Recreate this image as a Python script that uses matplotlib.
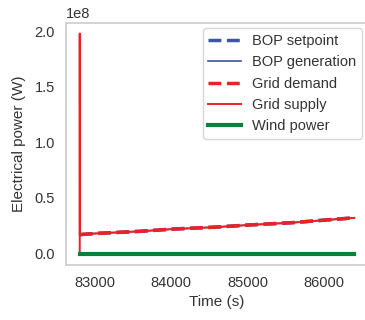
import matplotlib
matplotlib.use("Agg")
import matplotlib.pyplot as plt
import numpy as np

plt.rcParams['font.family'] = ['Liberation Sans', 'DejaVu Sans']

# Data (time in s, power in W)
time_demand = [82800, 83000, 83600, 84000, 84600, 85000, 85600, 86000, 86400]
grid_demand = [0.170e8, 0.180e8, 0.200e8, 0.219e8, 0.238e8, 0.256e8, 0.278e8, 0.300e8, 0.321e8]
time_supply = [82800, 82800, 82801] + time_demand[1:]
grid_supply = [0.0, 1.98e8, 0.170e8] + grid_demand[1:]
bop_setpoint = grid_demand
bop_generation = grid_demand
wind_power = [0.0] * len(time_demand)

fs = 10.5
fig = plt.figure(figsize=(3.65, 3.2), dpi=100)
ax = fig.add_axes([66/365, 1 - 264.5/320, (368-66)/365, (264.5-22.5)/320])

blue = '#3a56a5'
red = '#ec2027'
green = '#0d7f3c'
ax.plot(time_demand, bop_setpoint, color=blue, lw=2.5, ls='--', label='BOP setpoint')
ax.plot(time_demand, bop_generation, color=blue, lw=1.2, label='BOP generation')
ax.plot(time_demand, grid_demand, color=red, lw=2.5, ls='--', label='Grid demand')
ax.plot(time_supply, grid_supply, color=red, lw=1.4, label='Grid supply')
ax.plot(time_demand, wind_power, color=green, lw=3, label='Wind power')

ax.set_xticks([83000, 84000, 85000, 86000])
ax.set_yticks([0, 0.5e8, 1.0e8, 1.5e8, 2.0e8])
ax.tick_params(length=0, labelsize=fs, colors='#333333', pad=8)
ax.yaxis.get_offset_text().set_fontsize(fs)
ax.yaxis.get_offset_text().set_color('#333333')
for s in ax.spines.values():
    s.set_color('#cccccc')
    s.set_linewidth(1.2)
ax.grid(False)
ax.set_xlabel('Time (s)', fontsize=11, color='#333333', labelpad=4)
ax.set_ylabel('Electrical power (W)', fontsize=11, color='#333333', labelpad=6)
leg = ax.legend(loc='upper right', fontsize=fs, frameon=True, handlelength=2.2,
                borderaxespad=0.4)
leg.get_frame().set_edgecolor('#cccccc')
for t in leg.get_texts():
    t.set_color('#333333')

fig.savefig('out.png', dpi=100)
